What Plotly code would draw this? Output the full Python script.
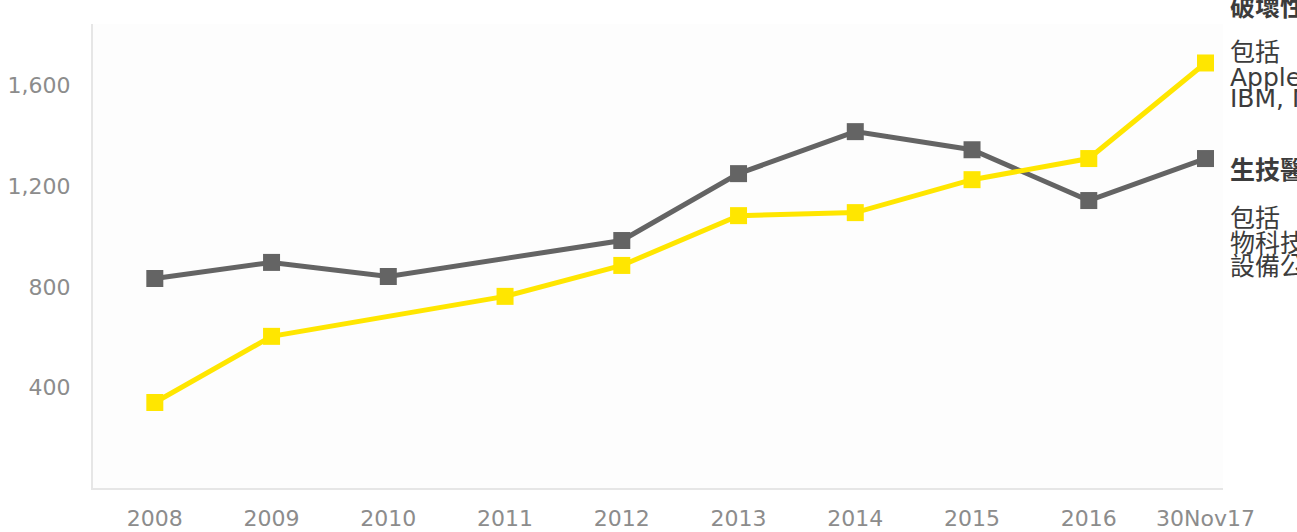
import plotly.graph_objects as go

# Category labels along the x axis
categories = ["2008", "2009", "2010", "2011", "2012", "2013", "2014", "2015", "2016", "30Nov17"]

# Index values per series (None = no observation, line bridges the gap)
disruptive = [340, 603, None, 762, 885, 1083, 1095, 1226, 1310, 1690]
biotech = [833, 897, 841, None, 984, 1250, 1417, 1345, 1143, 1310]

y_ticks = [400, 800, 1200, 1600]
y_tick_text = ["400", "800", "1,200", "1,600"]

# Side panel description lines and their vertical pixel positions
side_text = ["<b>破壞性</b>", "包括", "Apple", "IBM, M", "<b>生技醫</b>", "包括", "物科技", "設備公"]
side_text_y = [7, 52, 77, 99, 171, 219, 243, 266]

YELLOW = "#FFE600"
GREY = "#646464"

# Layout is expressed in pixels of the rendered page width
PAGE_W, PAGE_H = 1266, 532
PANEL_X0 = 1225
x_pos = list(range(len(categories)))

fig = go.Figure()
fig.add_trace(go.Scatter(
    x=x_pos, y=biotech, mode="lines+markers", connectgaps=True,
    line=dict(color=GREY, width=5),
    marker=dict(symbol="square", size=17, color=GREY),
    name="生技醫療", showlegend=False,
))
fig.add_trace(go.Scatter(
    x=x_pos, y=disruptive, mode="lines+markers", connectgaps=True,
    line=dict(color=YELLOW, width=5),
    marker=dict(symbol="square", size=17, color=YELLOW),
    name="破壞性科技", showlegend=False,
))


def px_x(p):
    return min(p / PAGE_W, 1.0)


def px_y(p):
    return 1 - p / PAGE_H


for text, y in zip(side_text, side_text_y):
    fig.add_annotation(
        x=px_x(PANEL_X0 + 4), y=px_y(y), xref="paper", yref="paper",
        xanchor="left", yanchor="middle", showarrow=False, text=text,
        font=dict(family="DejaVu Sans, Noto Sans CJK TC", size=25, color="#3C3C3C"),
    )

tick_font = dict(family="DejaVu Sans", size=22, color="#8C8C8C")

fig.update_layout(
    autosize=True,
    margin=dict(l=0, r=0, t=0, b=0),
    paper_bgcolor="white",
    plot_bgcolor="#FDFDFD",
    xaxis=dict(
        domain=[px_x(93), px_x(PANEL_X0 - 1)],
        range=[-0.53, 9.15],
        tickmode="array", tickvals=x_pos, ticktext=categories,
        showgrid=False, zeroline=False,
        showline=True, linecolor="#E6E6E6", linewidth=2,
        ticks="", ticklabelstandoff=10,
        tickfont=tick_font,
    ),
    yaxis=dict(
        domain=[px_y(488), px_y(24)],
        range=[0, 1845],
        tickmode="array", tickvals=y_ticks, ticktext=y_tick_text,
        showgrid=False, zeroline=False,
        showline=True, linecolor="#E6E6E6", linewidth=2,
        ticks="", ticklabelstandoff=16,
        tickfont=tick_font,
    ),
)

fig.write_html("out.html", default_width="100%", default_height="100vh",
               config={"responsive": True, "displayModeBar": False})
